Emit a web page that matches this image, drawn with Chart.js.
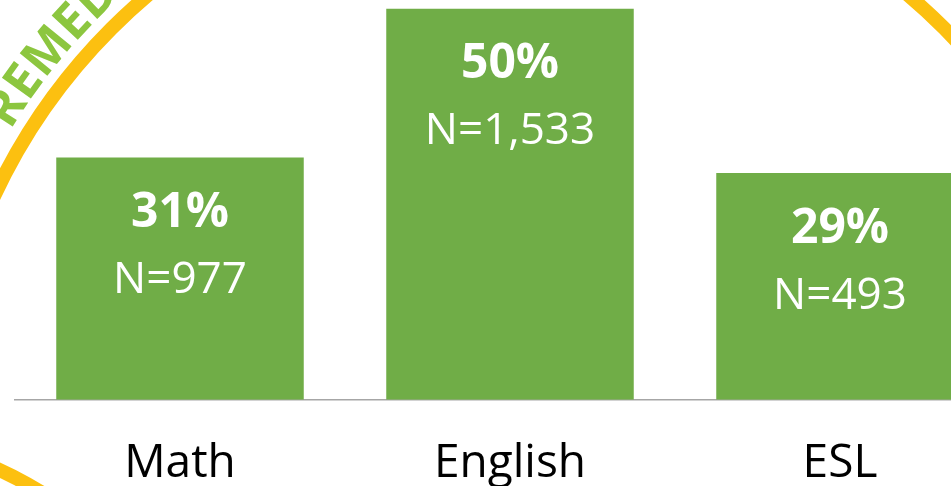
<!DOCTYPE html>
<html>
<head>
<meta charset="utf-8">
<script src="https://cdn.jsdelivr.net/npm/chart.js@4.4.1/dist/chart.umd.min.js"></script>
<style>
  html, body { margin: 0; padding: 0; background: #fff; overflow: hidden; }
  .ChartContainer { width: 1010px; height: 527px; }
</style>
</head>
<body>
<div class="ChartContainer">
  <canvas id="chart" width="1010" height="527"></canvas>
</div>
<script>
const categories = ['Math', 'English', 'ESL'];
const percentValues = [31, 50, 29];
const countLabels = ['N=977', 'N=1,533', 'N=493'];

const BAR_GREEN = '#70AD47';
const FONT = '"Open Sans", "Noto Sans", sans-serif';

// decorative seal behind the chart (yellow ring + curved green lettering)
const sealPlugin = {
    id: 'seal',
    beforeDraw(chart) {
        const ctx = chart.ctx;
        const cx = 528, cy = 445, r = 589;
        ctx.save();
        ctx.strokeStyle = '#FCC010';
        ctx.lineWidth = 14;
        ctx.beginPath();
        ctx.arc(cx, cy, r, Math.PI, 2 * Math.PI);
        ctx.stroke();

        ctx.beginPath();
        ctx.moveTo(-12, 465);
        ctx.quadraticCurveTo(20, 478, 60, 504);
        ctx.stroke();

        // letters around the ring
        const text = 'REMEDIAL';
        ctx.font = 'bold 50px ' + FONT;
        ctx.fillStyle = '#8CC63F';
        ctx.textAlign = 'center';
        ctx.textBaseline = 'middle';
        const tr = 620, gap = 1;
        const widths = text.split('').map(ch => ctx.measureText(ch).width + gap);
        const dIndex = text.indexOf('D');
        let before = 0;
        for (let i = 0; i < dIndex; i++) before += widths[i];
        before += widths[dIndex] / 2;
        let pos = -134 * Math.PI / 180 - before / tr;
        text.split('').forEach((ch, i) => {
            const a = pos + widths[i] / 2 / tr;
            ctx.save();
            ctx.translate(cx + tr * Math.cos(a), cy + tr * Math.sin(a));
            ctx.rotate(a + Math.PI / 2);
            ctx.fillText(ch, 0, 0);
            ctx.restore();
            pos += widths[i] / tr;
        });
        ctx.restore();
    }
};

// percent + count text inside each bar
const barTextPlugin = {
    id: 'barText',
    afterDatasetsDraw(chart) {
        const ctx = chart.ctx;
        const meta = chart.getDatasetMeta(0);
        ctx.save();
        ctx.fillStyle = '#fff';
        ctx.textAlign = 'center';
        ctx.textBaseline = 'middle';
        meta.data.forEach((bar, i) => {
            ctx.font = 'bold 48px ' + FONT;
            ctx.fillText(percentValues[i] + '%', bar.x, bar.y + 56);
            ctx.font = '44px ' + FONT;
            ctx.fillText(countLabels[i], bar.x, bar.y + 123);
        });
        ctx.restore();
    }
};

const ctx = document.getElementById('chart').getContext('2d');
new Chart(ctx, {
    type: 'bar',
    data: {
        labels: categories,
        datasets: [{
            data: percentValues,
            backgroundColor: BAR_GREEN,
            borderWidth: 0,
            barPercentage: 0.75,
            categoryPercentage: 1.0
        }]
    },
    options: {
        responsive: false,
        devicePixelRatio: 1,
        animation: false,
        layout: { padding: { left: 15, right: 5, top: 1, bottom: 0 } },
        plugins: {
            legend: { display: false },
            tooltip: { enabled: false }
        },
        scales: {
            x: {
                grid: { display: false, drawTicks: false },
                border: { display: true, color: '#A6A6A6', width: 1.5 },
                ticks: {
                    color: '#000',
                    padding: 36,
                    font: { family: FONT, size: 46 }
                }
            },
            y: {
                display: false,
                min: 0,
                max: 51
            }
        }
    },
    plugins: [sealPlugin, barTextPlugin]
});
</script>
</body>
</html>
